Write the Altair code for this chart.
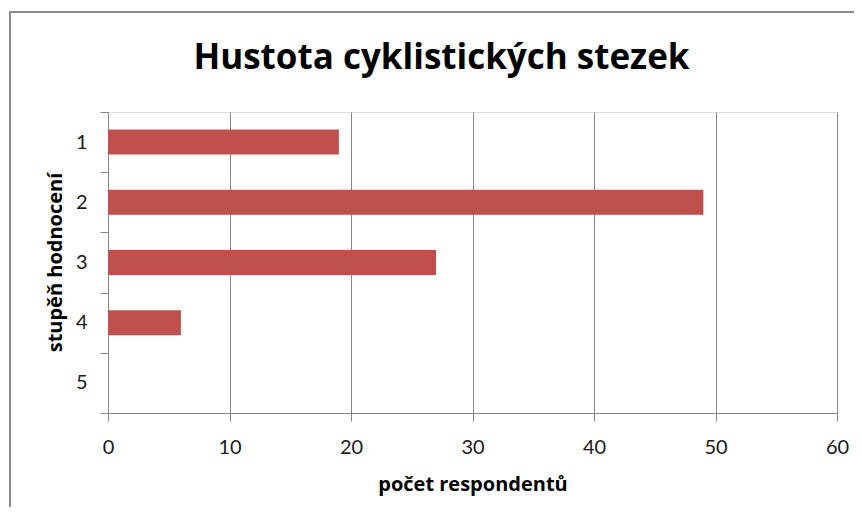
import altair as alt
import pandas as pd

categories = ["1", "2", "3", "4", "5"]
values = [19, 49, 27, 6, 0]
x_ticks = [0, 10, 20, 30, 40, 50, 60]
title_text = "Hustota cyklistických stezek"

df = pd.DataFrame({"stupen": categories, "pocet": values})

FONT = "Lato"
TFONT = "Open Sans"
GRAY = "#868686"

frame = alt.Chart(pd.DataFrame({"a": [0]})).mark_rect(
    fill=None, fillOpacity=0, stroke="#8c8c8c", strokeWidth=2, clip=False
).encode(
    x=alt.value(-98), x2=alt.value(900),
    y=alt.value(-100), y2=alt.value(600),
)

title = alt.Chart(pd.DataFrame({"t": [title_text]})).mark_text(
    font=TFONT, fontSize=35, fontWeight="bold", color="black",
    align="center", baseline="alphabetic",
).encode(text="t:N", x=alt.value(333.5), y=alt.value(-43))

bars = alt.Chart(df).mark_bar(size=25, color="#C0504D").encode(
    x=alt.X(
        "pocet:Q",
        scale=alt.Scale(domain=[0, 60], nice=False),
        axis=alt.Axis(
            values=x_ticks, grid=True, gridColor=GRAY, gridWidth=1,
            domainColor=GRAY, tickColor=GRAY, tickSize=8, labelFlush=False,
            labelFont=FONT, labelFontSize=20, labelColor="#1a1a1a", labelPadding=16,
            title="počet respondentů", titleFont=TFONT, titleFontSize=20,
            titleFontWeight="bold", titleColor="black",
            titleY=77, titleBaseline="alphabetic",
        ),
    ),
    y=alt.Y(
        "stupen:N",
        sort=categories,
        scale=alt.Scale(domain=categories, paddingInner=0, paddingOuter=0),
        axis=alt.Axis(
            tickBand="extent", grid=False,
            domainColor=GRAY, tickColor=GRAY, tickSize=8,
            labelFont=FONT, labelFontSize=20, labelColor="#1a1a1a", labelPadding=13,
            labelAngle=0,
            title="stupěň hodnocení", titleFont=TFONT, titleFontSize=20,
            titleFontWeight="bold", titleColor="black",
            titleX=-47, titleY=150, titleAngle=270, titleBaseline="alphabetic",
        ),
    ),
)

chart = alt.layer(frame, title, bars).properties(
    width=729,
    height=301,
    padding={"left": 100, "top": 104, "right": 17, "bottom": 94},
    autosize=alt.AutoSizeParams(type="none"),
).configure_view(stroke=None).configure(background="white")

chart.save("out.html", embed_options={"renderer": "svg", "actions": False})
